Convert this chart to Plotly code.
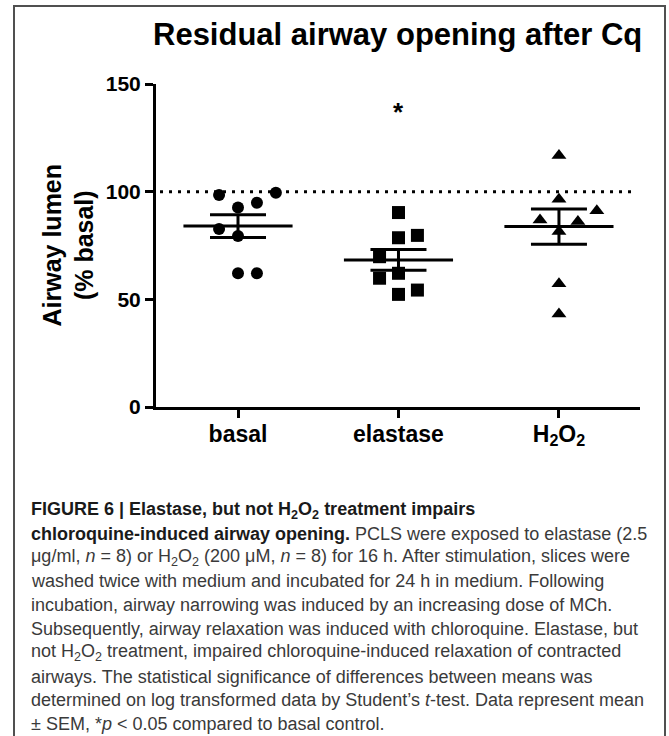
import plotly.graph_objects as go

# ---------------- data ----------------
categories = ["basal", "elastase", "H<sub>2</sub>O<sub>2</sub>"]
basal_vals = [98.5, 99.5, 94.9, 92.6, 82.7, 79.4, 62.1, 62.1]
elastase_vals = [90.3, 78.6, 79.7, 69.8, 59.8, 62.1, 52.3, 54.3]
h2o2_vals = [116.8, 96.5, 91.1, 86.9, 86.2, 81.5, 57.2, 43.2]
group_means = [84.0, 68.3, 83.8]
group_sem = [5.3, 4.8, 8.2]
reference_level = 100
significance_value = 137
y_ticks = [0, 50, 100, 150]

# scatter jitter (slot index within each column)
jitter_basal = [-1, 2, 1, 0, -1, 0, 0, 1]
jitter_elastase = [0, 0, 1, -1, -1, 0, 0, 1]
jitter_h2o2 = [0, 0, 2, -1, 1, 0, 0, 0]

# ---------------- layout helpers ----------------
W, H = 669, 736
def px(x):
    return x / W
def py(y):
    return 1 - y / H

SLOT = 0.118
MEAN_HALF = 0.34
FONT = "Liberation Sans, Arial, sans-serif"

fig = go.Figure()

groups = [
    (basal_vals, jitter_basal, "circle", 12),
    (elastase_vals, jitter_elastase, "square", 13),
    (h2o2_vals, jitter_h2o2, "triangle-up", 13),
]
for gi, (vals, jit, sym, size) in enumerate(groups):
    fig.add_trace(go.Scatter(
        x=[gi + j * SLOT for j in jit], y=vals, mode="markers",
        marker=dict(symbol=sym, size=size, color="black", line=dict(width=0)),
        showlegend=False, hoverinfo="skip"))

for gi, (m, s) in enumerate(zip(group_means, group_sem)):
    fig.add_trace(go.Scatter(
        x=[gi - MEAN_HALF, gi + MEAN_HALF], y=[m, m], mode="lines",
        line=dict(color="black", width=3), showlegend=False, hoverinfo="skip"))
    fig.add_trace(go.Scatter(
        x=[gi], y=[m], mode="markers", marker=dict(size=1, color="black", opacity=0),
        error_y=dict(type="data", array=[s], color="black", thickness=3, width=28),
        showlegend=False, hoverinfo="skip"))

# dotted reference line
fig.add_trace(go.Scatter(
    x=[-0.486, 2.474], y=[reference_level, reference_level], mode="lines",
    line=dict(color="black", width=3, dash="3px,6px"), showlegend=False, hoverinfo="skip"))

fig.update_xaxes(
    domain=[px(156), px(640)], range=[-0.511, 2.505],
    tickvals=[0, 1, 2], ticktext=["<b>%s</b>" % c for c in categories],
    tickfont=dict(family=FONT, size=23, color="black"),
    showline=True, linecolor="black", linewidth=3,
    ticks="outside", ticklen=8, tickwidth=3, tickcolor="black",
    ticklabelstandoff=-4,
    showgrid=False, zeroline=False, automargin=False, fixedrange=True)
fig.update_yaxes(
    domain=[py(407), py(84)], range=[0, 150],
    tickvals=y_ticks, ticktext=["<b>%d</b>" % v for v in y_ticks],
    tickfont=dict(family=FONT, size=21, color="black"),
    showline=True, linecolor="black", linewidth=3,
    ticks="outside", ticklen=8, tickwidth=3, tickcolor="black",
    showgrid=False, zeroline=False, automargin=False, fixedrange=True)

ann = []
# title
ann.append(dict(x=px(397), y=py(35), xref="paper", yref="paper", showarrow=False,
                text="<b>Residual airway opening after Cq</b>", xanchor="center", yanchor="middle",
                font=dict(family=FONT, size=31, color="black")))
# y axis title
ann.append(dict(x=px(68), y=py(245.5), xref="paper", yref="paper", showarrow=False,
                text="<b>Airway lumen<br>(% basal)</b>", textangle=-90,
                xanchor="center", yanchor="middle",
                font=dict(family=FONT, size=25, color="black")))
# significance mark
ann.append(dict(x=1, y=significance_value, xref="x", yref="y", showarrow=False,
                text="<b>*</b>", xanchor="center", yanchor="middle",
                font=dict(family=FONT, size=26, color="black")))

B = "#1a1a1a"
R = "#3a3a3a"
caption = [
    "<b>FIGURE 6 | Elastase, but not H<sub>2</sub>O<sub>2</sub> treatment impairs</b>",
    "<b>chloroquine-induced airway opening.</b> <span style='color:%s'>PCLS were exposed to elastase (2.5</span>" % R,
    "<span style='color:%s'>μg/ml, <i>n</i> = 8) or H<sub>2</sub>O<sub>2</sub> (200 μM, <i>n</i> = 8) for 16 h. After stimulation, slices were</span>" % R,
    "<span style='color:%s'>washed twice with medium and incubated for 24 h in medium. Following</span>" % R,
    "<span style='color:%s'>incubation, airway narrowing was induced by an increasing dose of MCh.</span>" % R,
    "<span style='color:%s'>Subsequently, airway relaxation was induced with chloroquine. Elastase, but</span>" % R,
    "<span style='color:%s'>not H<sub>2</sub>O<sub>2</sub> treatment, impaired chloroquine-induced relaxation of contracted</span>" % R,
    "<span style='color:%s'>airways. The statistical significance of differences between means was</span>" % R,
    "<span style='color:%s'>determined on log transformed data by Student’s <i>t</i>-test. Data represent mean</span>" % R,
    "<span style='color:%s'>± SEM, *<i>p</i> &lt; 0.05 compared to basal control.</span>" % R,
]
for i, line in enumerate(caption):
    ann.append(dict(x=px(29), y=py(510 + i * 23.8), xref="paper", yref="paper", showarrow=False,
                    text=line, xanchor="left", yanchor="middle", align="left",
                    font=dict(family=FONT, size=18, color=B)))

shapes = [dict(type="rect", xref="paper", yref="paper",
               x0=px(14), x1=px(665), y0=py(745), y1=py(6),
               line=dict(color="#505050", width=2), fillcolor="rgba(0,0,0,0)", layer="below")]

fig.update_layout(width=W, height=H, margin=dict(l=0, r=0, t=0, b=0),
                  paper_bgcolor="white", plot_bgcolor="white",
                  annotations=ann, shapes=shapes, showlegend=False)

fig.write_html("out.html", config={"displayModeBar": False},
               post_script="document.body.style.margin='0';document.body.style.overflow='hidden';")
